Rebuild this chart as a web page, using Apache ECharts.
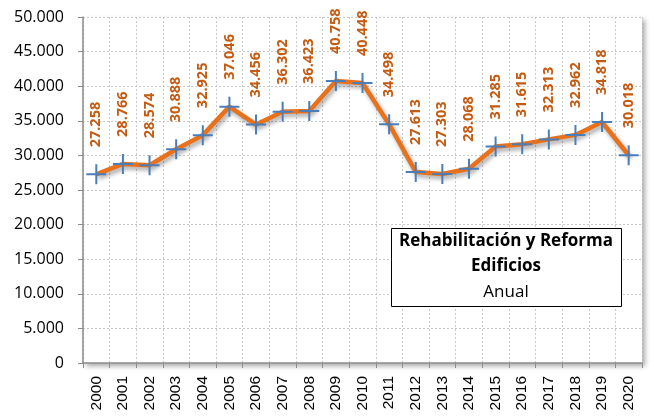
<!DOCTYPE html>
<html><head><meta charset="utf-8">
<script src="https://cdn.jsdelivr.net/npm/echarts@6/dist/echarts.min.js"></script>
<style>html,body{margin:0;padding:0;background:#fff}#c{width:654px;height:419px}</style>
</head><body><div id="c"></div>
<script>
var years = ['2000','2001','2002','2003','2004','2005','2006','2007','2008','2009','2010','2011','2012','2013','2014','2015','2016','2017','2018','2019','2020'];
var values = [27258,28766,28574,30888,32925,37046,34456,36302,36423,40758,40448,34498,27613,27303,28068,31285,31615,32313,32962,34818,30018];
var titleLines = ['Rehabilitación y Reforma','Edificios','Anual'];

function fmt(v){ return String(Math.round(v)).replace(/\B(?=(\d{3})+(?!\d))/g,'.'); }

var chart = echarts.init(document.getElementById('c'));
chart.setOption({
  animation:false,
  backgroundColor:'#fff',
  grid:{left:83,right:12,top:17,bottom:56,show:true,borderWidth:0,backgroundColor:'#fff',shadowColor:'rgba(0,0,0,0.35)',shadowBlur:5,shadowOffsetX:3,shadowOffsetY:3},
  xAxis:{type:'category',data:years,boundaryGap:true,
    axisLine:{lineStyle:{color:'#8c8c8c',width:1.5}},
    axisTick:{show:true,length:5,lineStyle:{color:'#8c8c8c'}},
    axisLabel:{rotate:90,fontFamily:'Liberation Sans',fontSize:15.5,color:'#000',margin:13},
    splitLine:{show:true,lineStyle:{color:'#c8c8c8',type:[2,2],width:1}}},
  yAxis:{type:'value',min:0,max:50000,interval:5000,
    axisLine:{show:true,lineStyle:{color:'#8c8c8c',width:1.5}},
    axisTick:{show:true,length:5,lineStyle:{color:'#8c8c8c'}},
    axisLabel:{formatter:fmt,fontFamily:'Open Sans',fontSize:16,color:'#000',margin:19},
    splitLine:{show:true,lineStyle:{color:'#c8c8c8',type:[2,2],width:1}}},
  series:[{type:'line',data:values,
    lineStyle:{color:'#E8711C',width:4.5,shadowColor:'rgba(0,0,0,0.35)',shadowBlur:4,shadowOffsetX:2,shadowOffsetY:3},
    itemStyle:{color:'#4A7EBB'},
    symbol:'path://M9,0h2v20h-2z M0,9h20v2h-20z',symbolSize:20,
    label:{show:true,position:'top',rotate:90,align:'left',verticalAlign:'middle',distance:17,
      formatter:function(p){return fmt(p.value);},
      fontFamily:'Open Sans',fontWeight:'bold',fontSize:14.5,color:'#C55A11'}
  }],
  graphic:[
    {type:'rect',left:391,top:228,shape:{width:230,height:78},style:{fill:'#fff',stroke:'#000',lineWidth:1},z:100},
    {type:'text',x:506,y:241,style:{text:titleLines[0],font:'bold 17px "Open Sans"',fill:'#000',textAlign:'center',textVerticalAlign:'middle'},z:101},
    {type:'text',x:506,y:266,style:{text:titleLines[1],font:'bold 17px "Open Sans"',fill:'#000',textAlign:'center',textVerticalAlign:'middle'},z:101},
    {type:'text',x:506,y:292,style:{text:titleLines[2],font:'17px "Open Sans"',fill:'#000',textAlign:'center',textVerticalAlign:'middle'},z:101}
  ]
});
</script></body></html>
